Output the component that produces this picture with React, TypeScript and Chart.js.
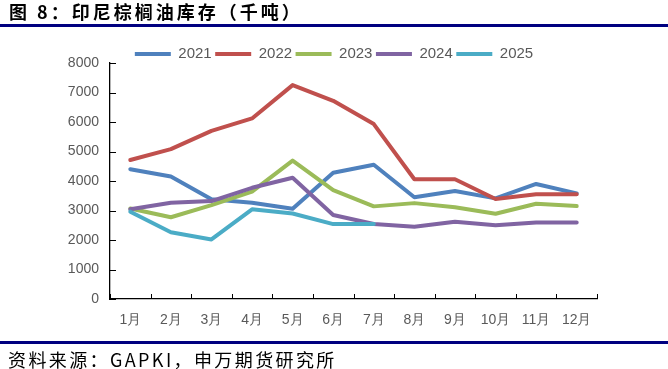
import React, { useEffect, useRef } from "react";
import { Chart, registerables } from "chart.js";

Chart.register(...registerables);

const categories = ["1月", "2月", "3月", "4月", "5月", "6月", "7月", "8月", "9月", "10月", "11月", "12月"];
const seriesNames = ["2021", "2022", "2023", "2024", "2025"];
const series2021 = [4400, 4150, 3380, 3265, 3060, 4280, 4550, 3450, 3660, 3410, 3900, 3580];
const series2022 = [4710, 5080, 5700, 6120, 7250, 6720, 5930, 4060, 4060, 3390, 3550, 3550];
const series2023 = [3070, 2770, 3180, 3640, 4690, 3690, 3140, 3250, 3110, 2890, 3230, 3150];
const series2024 = [3040, 3265, 3320, 3770, 4110, 2850, 2540, 2450, 2620, 2500, 2590, 2590];
const series2025 = [2960, 2260, 2020, 3040, 2900, 2540, 2540, null, null, null, null, null];
const seriesColors = ["#4F81BD", "#C0504D", "#9BBB59", "#8064A2", "#4BACC6"];
const yMin = 0;
const yMax = 8000;
const yStep = 1000;

const titleText = "图 8：印尼棕榈油库存（千吨）";
const sourceText = "资料来源：GAPKI，申万期货研究所";

const LEGEND_H = 20;

const legendFitPlugin = {
  id: "legendFit",
  afterInit(chart: any) {
    const legend = chart.legend;
    if (!legend || legend.__wrapped) return;
    const orig = legend.fit;
    legend.fit = function () {
      orig.call(this);
      this.height = LEGEND_H;
    };
    legend.__wrapped = true;
  },
};

const tickMarksPlugin = {
  id: "tickMarks",
  afterDatasetsDraw(chart: any) {
    const { ctx, scales } = chart;
    const x = scales.x;
    const y = scales.y;
    ctx.save();
    ctx.strokeStyle = "#000000";
    ctx.lineWidth = 1;
    const bottom = y.getPixelForValue(yMin);
    for (let i = 0; i <= categories.length; i++) {
      const px = Math.round(x.getPixelForValue(i - 0.5)) + 0.5;
      ctx.beginPath();
      ctx.moveTo(px, bottom);
      ctx.lineTo(px, bottom - 5);
      ctx.stroke();
    }
    const left = x.getPixelForValue(-0.5);
    for (let v = yMin; v <= yMax; v += yStep) {
      const py = Math.round(y.getPixelForValue(v)) + 0.5;
      ctx.beginPath();
      ctx.moveTo(left, py);
      ctx.lineTo(left + 6, py);
      ctx.stroke();
    }
    ctx.restore();
  },
};

export default function App() {
  const canvasRef = useRef<HTMLCanvasElement | null>(null);

  useEffect(() => {
    const canvas = canvasRef.current;
    if (!canvas) return;
    const allSeries = [series2021, series2022, series2023, series2024, series2025];
    const chart = new Chart(canvas, {
      type: "line",
      data: {
        labels: categories,
        datasets: allSeries.map((data, i) => ({
          label: seriesNames[i],
          data,
          borderColor: seriesColors[i],
          backgroundColor: seriesColors[i],
          borderWidth: 4,
          pointRadius: 0,
          pointHoverRadius: 0,
          tension: 0,
          fill: false,
          spanGaps: false,
          borderCapStyle: "round",
          borderJoinStyle: "round",
          order: allSeries.length - i,
        })),
      },
      options: {
        responsive: false,
        animation: false,
        devicePixelRatio: 1,
        layout: { padding: { top: 43, left: 0, right: 0, bottom: 40 } },
        plugins: {
          title: { display: false },
          tooltip: { enabled: false },
          legend: {
            display: true,
            position: "top",
            align: "center",
            labels: {
              usePointStyle: true,
              pointStyle: "line",
              pointStyleWidth: 36,
              padding: 3.5,
              color: "#595959",
              font: { family: "'Liberation Sans', Arial, sans-serif", size: 15 },
              sort: (a: any, b: any) => a.datasetIndex - b.datasetIndex,
            },
          },
        },
        scales: {
          x: {
            type: "category",
            offset: true,
            grid: { display: false, drawTicks: false },
            border: { display: true, color: "#000000", width: 1.3 },
            ticks: {
              color: "#595959",
              font: { family: "'Liberation Sans', Arial, sans-serif", size: 14 },
              padding: 13,
              maxRotation: 0,
              autoSkip: false,
            },
            afterFit: (scale: any) => {
              scale.height = 30;
            },
          },
          y: {
            min: yMin,
            max: yMax,
            grid: { display: false, drawTicks: false },
            border: { display: true, color: "#000000", width: 1.3 },
            ticks: {
              stepSize: yStep,
              color: "#595959",
              font: { family: "'Liberation Sans', Arial, sans-serif", size: 14 },
              padding: 11,
              callback: (value: any) => String(value),
            },
            afterFit: (scale: any) => {
              scale.width = 110;
            },
          },
          ySpacer: {
            type: "linear",
            position: "right",
            min: yMin,
            max: yMax,
            display: true,
            grid: { display: false, drawTicks: false },
            border: { display: false },
            ticks: { display: false },
            afterFit: (scale: any) => {
              scale.width = 71;
            },
          },
        },
      },
      plugins: [legendFitPlugin, tickMarksPlugin],
    } as any);
    return () => chart.destroy();
  }, []);

  return (
    <div style={{ position: "absolute", left: 0, top: 0, width: 668, height: 369, background: "#ffffff", overflow: "hidden" }}>
      <canvas ref={canvasRef} width={668} height={369} style={{ position: "absolute", left: 0, top: 0, width: 668, height: 369 }} />
      <div
        style={{
          position: "absolute",
          left: 9,
          top: 1.5,
          fontFamily: "'Noto Sans CJK SC', sans-serif",
          fontWeight: 700,
          fontSize: 18,
          lineHeight: "18px",
          letterSpacing: "3px",
          color: "#000000",
          whiteSpace: "nowrap",
        }}
      >
        {titleText}
      </div>
      <div style={{ position: "absolute", left: 0, top: 24, width: 668, height: 2.5, background: "#000080" }} />
      <div style={{ position: "absolute", left: 0, top: 341, width: 668, height: 3, background: "#000080" }} />
      <div
        style={{
          position: "absolute",
          left: 8,
          top: 349.5,
          fontFamily: "'Noto Sans CJK SC', sans-serif",
          fontSize: 18,
          lineHeight: "18px",
          letterSpacing: "2.4px",
          color: "#000000",
          whiteSpace: "nowrap",
        }}
      >
        {sourceText}
      </div>
    </div>
  );
}
